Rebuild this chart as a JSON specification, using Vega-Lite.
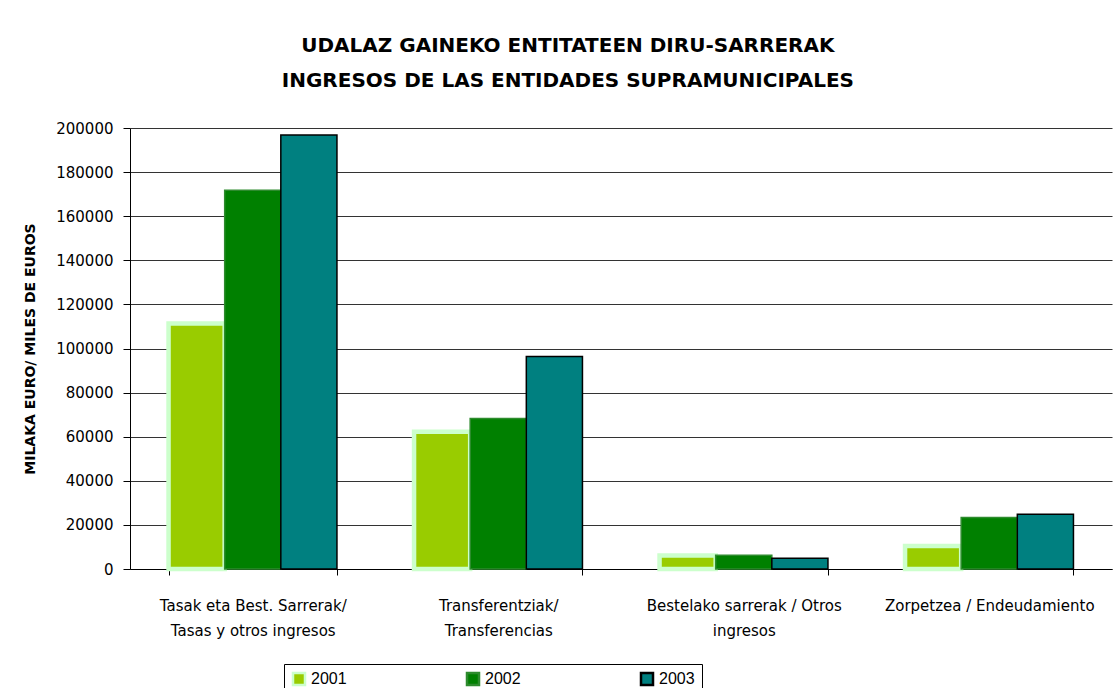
{
  "$schema": "https://vega.github.io/schema/vega-lite/v6.json",
  "autosize": {"type": "none"},
  "width": 982,
  "height": 441,
  "padding": {"left": 130, "top": 128, "right": 7, "bottom": 119},
  "background": "white",
  "title": {
    "text": ["UDALAZ GAINEKO ENTITATEEN DIRU-SARRERAK", "INGRESOS DE LAS ENTIDADES SUPRAMUNICIPALES"],
    "font": "DejaVu Sans",
    "fontSize": 20,
    "fontWeight": "bold",
    "lineHeight": 35,
    "anchor": "middle",
    "frame": "bounds",
    "offset": 30,
    "color": "black"
  },
  "data": {
    "values": [
      {"categoria": "Tasak eta Best. Sarrerak/\nTasas y otros ingresos", "year": "2001", "value": 111300},
      {"categoria": "Tasak eta Best. Sarrerak/\nTasas y otros ingresos", "year": "2002", "value": 171800},
      {"categoria": "Tasak eta Best. Sarrerak/\nTasas y otros ingresos", "year": "2003", "value": 196800},
      {"categoria": "Transferentziak/\nTransferencias", "year": "2001", "value": 62300},
      {"categoria": "Transferentziak/\nTransferencias", "year": "2002", "value": 68200},
      {"categoria": "Transferentziak/\nTransferencias", "year": "2003", "value": 96400},
      {"categoria": "Bestelako sarrerak / Otros\ningresos", "year": "2001", "value": 6100},
      {"categoria": "Bestelako sarrerak / Otros\ningresos", "year": "2002", "value": 6200},
      {"categoria": "Bestelako sarrerak / Otros\ningresos", "year": "2003", "value": 4900},
      {"categoria": "Zorpetzea / Endeudamiento", "year": "2001", "value": 10400},
      {"categoria": "Zorpetzea / Endeudamiento", "year": "2002", "value": 23300},
      {"categoria": "Zorpetzea / Endeudamiento", "year": "2003", "value": 24800}
    ]
  },
  "mark": {"type": "bar"},
  "encoding": {
    "x": {
      "field": "categoria",
      "type": "nominal",
      "sort": null,
      "scale": {"paddingInner": 0.314, "paddingOuter": 0.157},
      "axis": {
        "title": null,
        "labelAngle": 0,
        "labelExpr": "split(datum.label, '\\n')",
        "labelFont": "DejaVu Sans",
        "labelFontSize": 15,
        "labelColor": "black",
        "labelLineHeight": 25,
        "labelBaseline": "top",
        "labelPadding": 23,
        "labelLimit": 0,
        "tickBand": "extent",
        "tickSize": 6,
        "tickColor": "black",
        "domainColor": "black",
        "grid": false
      }
    },
    "xOffset": {
      "field": "year",
      "type": "nominal",
      "scale": {"paddingInner": 0, "paddingOuter": 0}
    },
    "y": {
      "field": "value",
      "type": "quantitative",
      "scale": {"domain": [0, 200000], "nice": false},
      "axis": {
        "title": "MILAKA EURO/ MILES DE EUROS",
        "titleFont": "DejaVu Sans",
        "titleFontSize": 14,
        "titleFontWeight": "bold",
        "titleColor": "black",
        "titlePadding": 18,
        "values": [0, 20000, 40000, 60000, 80000, 100000, 120000, 140000, 160000, 180000, 200000],
        "format": "d",
        "labelFont": "DejaVu Sans",
        "labelFontSize": 15,
        "labelColor": "black",
        "labelPadding": 10,
        "tickSize": 7,
        "tickColor": "black",
        "domainColor": "black",
        "grid": true,
        "gridColor": "#333333",
        "gridOpacity": 1
      }
    },
    "fill": {
      "field": "year",
      "type": "nominal",
      "scale": {"domain": ["2001", "2002", "2003"], "range": ["#99CC00", "#008000", "#008080"]}
    },
    "stroke": {
      "field": "year",
      "type": "nominal",
      "scale": {"domain": ["2001", "2002", "2003"], "range": ["#CCFFCC", "#2E8B2E", "#000000"]}
    },
    "strokeWidth": {
      "condition": {"test": "datum.year === '2001'", "value": 4.5},
      "value": 1.5
    }
  },
  "config": {
    "view": {"stroke": null},
    "legend": {
      "orient": "none",
      "legendX": 154,
      "legendY": 536,
      "direction": "horizontal",
      "title": null,
      "columnPadding": 115,
      "symbolType": "square",
      "symbolSize": 144,
      "symbolStrokeWidth": 2.5,
      "labelFont": "Liberation Sans",
      "labelFontSize": 16,
      "labelColor": "black",
      "strokeColor": "black",
      "fillColor": "white",
      "padding": 7
    }
  }
}
